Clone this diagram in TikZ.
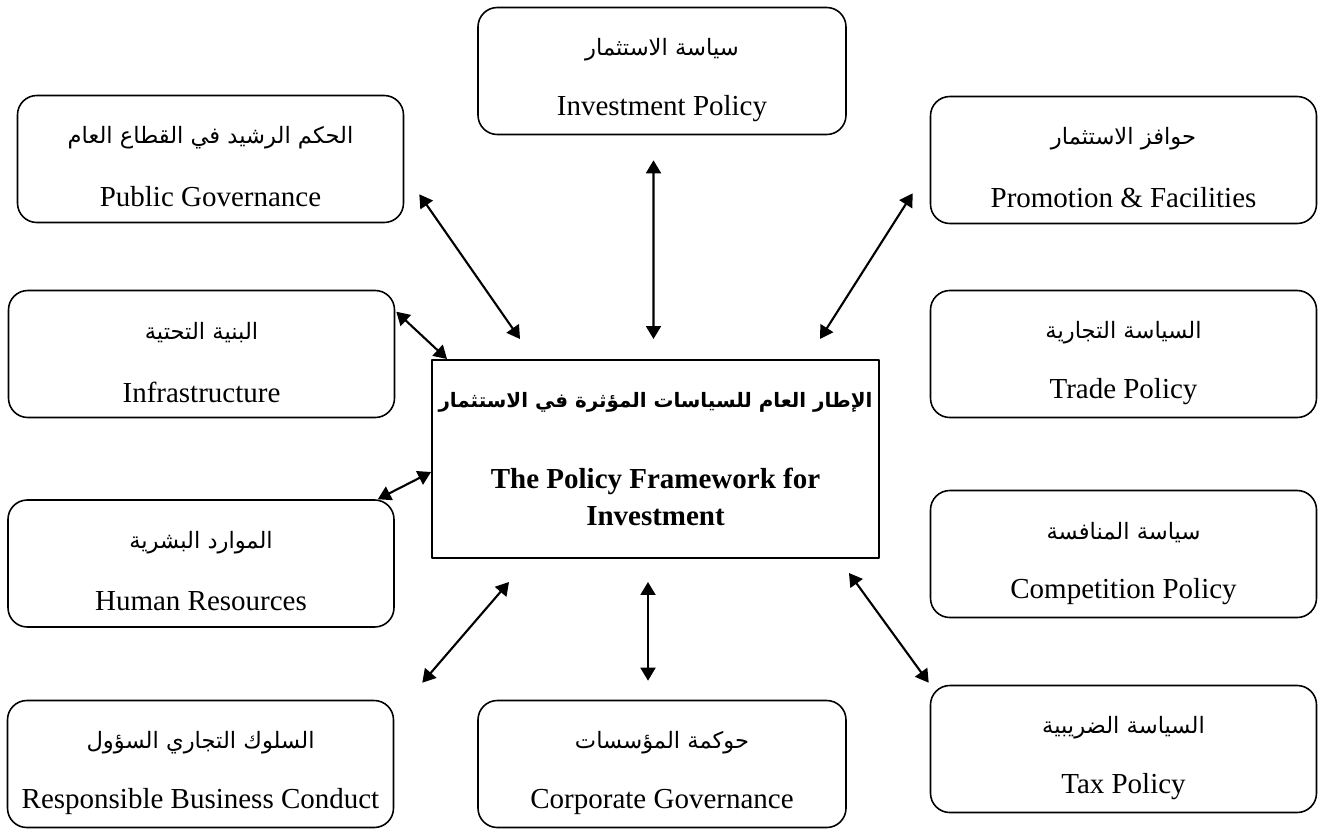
\documentclass[tikz,border=0pt]{standalone}
\usepackage{fontspec}
\setmainfont{Liberation Serif}
\newfontfamily\arabfont[Script=Arabic,Scale=0.78]{DejaVu Sans}
\TeXXeTstate=1
\usetikzlibrary{arrows.meta,calc}
\newcommand{\pu}{0.02cm}
\newcommand{\txtsize}{\fontsize{16.5}{21}\selectfont}
% one rounded policy box: [options] name, centre, arabic line, english line
\newcommand{\polbox}[5][]{%
	\node[pbox,#1] (#2) at (#3) {};
	\node[font={\txtsize\arabfont}] (#2-ar) at ([yshift={21*\pu}]#2.center) {#4};
	\node (#2-en) at ([yshift={-38*\pu}]#2.center) {#5};
}
\begin{document}
\begin{tikzpicture}[x=0.02cm,y=-0.02cm,line join=round,
		link/.style={{Triangle[length=7.4pt,width=8.5pt]}-{Triangle[length=7.4pt,width=8.5pt]},line width=1.2pt},
		pbox/.style={draw,line width=0.9pt,rounded corners=11pt,minimum width={386*\pu},minimum height={127*\pu}},
		frame/.style={draw,line width=1.1pt,align=center,minimum width={447*\pu},minimum height={198*\pu}}]
	\tikzset{every node/.style={font=\txtsize}}
	\useasboundingbox (0,0) rectangle (1318,829);
	% boxes round the frame
	\polbox[minimum width={368*\pu}]{inv}{662,71}{\beginR سياسة الاستثمار\endR}{Investment Policy}
	\polbox{pub}{210.5,159}{\beginR الحكم الرشيد في القطاع العام\endR}{Public Governance}
	\polbox{promo}{1123.5,160}{\beginR حوافز الاستثمار\endR}{Promotion \& Facilities}
	\polbox{infra}{201.5,354}{\beginR البنية التحتية\endR}{Infrastructure}
	\polbox{trade}{1123.5,354}{\beginR السياسة التجارية\endR}{Trade Policy}
	\polbox{human}{201,563.5}{\beginR الموارد البشرية\endR}{Human Resources}
	\polbox{comp}{1123.5,554}{\beginR سياسة المنافسة\endR}{Competition Policy}
	\polbox{tax}{1123.5,749}{\beginR السياسة الضريبية\endR}{Tax Policy}
	\polbox{resp}{200.5,764}{\beginR السلوك التجاري السؤول\endR}{Responsible Business Conduct}
	\polbox[minimum width={368*\pu}]{corp}{662,764}{\beginR حوكمة المؤسسات\endR}{Corporate Governance}
	% the framework itself
	\node[frame] (frame) at (655.5,459) {{\fontsize{14.5}{21}\selectfont\arabfont\bfseries\beginR الإطار العام للسياسات المؤثرة في الاستثمار\endR}\\[25pt]
		\textbf{The Policy Framework for}\\\textbf{Investment}};
	% two-way arrows
	\draw[link] ($(pub.south east)+(15,-29)$) -- ($(frame.north west)+(89,-20)$);
	\draw[link] ($(inv.south)+(-8.5,25)$) -- ($(frame.north)+(-2,-20)$);
	\draw[link] ($(promo.south west)+(-17,-31)$) -- ($(frame.north east)+(-60,-20)$);
	\draw[link] ($(infra.north east)+(1,22)$) -- ($(frame.north west)+(16,0)$);
	\draw[link] ($(human.north east)+(-17,0)$) -- ($(frame.west)+(0,13)$);
	\draw[link] ($(resp.north east)+(28,-17)$) -- ($(frame.south west)+(78,23)$);
	\draw[link] ($(corp.north)+(-14,-19)$) -- ($(frame.south)+(-7.5,23)$);
	\draw[link] ($(tax.north west)+(-1,-2)$) -- ($(frame.south east)+(-31,14)$);
\end{tikzpicture}
\end{document}
